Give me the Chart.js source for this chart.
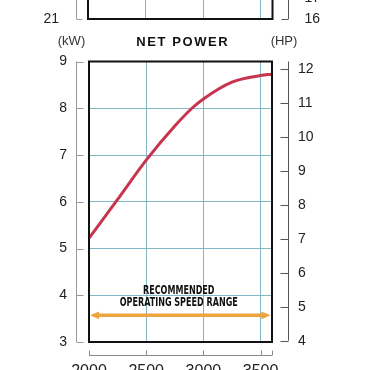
<!DOCTYPE html>
<html><head><meta charset="utf-8">
<script src="https://cdn.jsdelivr.net/npm/chart.js@4"></script>
<style>
html,body{margin:0;padding:0;background:#fff;}
body{width:370px;height:370px;overflow:hidden;position:relative;}
#topWrap{position:absolute;left:0;top:0;width:370px;height:30px;overflow:hidden;z-index:2;}
#topChart{position:absolute;left:0;top:-280px;}
#mainChart{position:absolute;left:0;top:0;z-index:1;}
</style></head><body>
<div id="topWrap"><canvas id="topChart" width="370" height="320"></canvas></div>
<canvas id="mainChart" width="370" height="370"></canvas>
<script>
// ---- data ----
const rpm = [2000,2250,2500,2750,2900,3000,3250,3500,3600];
const netPowerKW = [5.22,6.05,6.89,7.62,8.0,8.2,8.56,8.70,8.73];
const rpmTicks = [2000,2500,3000,3500];
const kwTicks = [3,4,5,6,7,8,9];
const hpTicks = [4,5,6,7,8,9,10,11,12];
const operatingRangeRpm = [2000,3600];
const operatingRangeLevelKW = 3.57;
const topLeftTicks = [21];
const topRightTicks = [16,17];
const titleText = 'NET POWER';
const leftUnit = '(kW)';
const rightUnit = '(HP)';
const rangeLabel = ['RECOMMENDED','OPERATING SPEED RANGE'];

const GRID = '#84b7c6';
const TICKFONT = '"Liberation Sans", Arial, sans-serif';

function setTicks(arr){ return s => { s.ticks = arr.map(v => ({value:v})); }; }
function fixV(w){ return s => { s.width = w; s.paddingTop = 0; s.paddingBottom = 0; }; }
function fixH(h){ return s => { s.height = h; s.paddingLeft = 0; s.paddingRight = 0; }; }

// ---- main chart decorations ----
const mainDecor = {
  id:'mainDecor',
  afterDatasetsDraw(chart){
    const {ctx, chartArea:a} = chart;
    ctx.save();
    ctx.strokeStyle = '#111'; ctx.lineWidth = 2;
    ctx.strokeRect(a.left, a.top, a.right-a.left, a.bottom-a.top);
    ctx.restore();
  },
  afterDraw(chart){
    const {ctx, chartArea:a, scales} = chart;
    const x = scales.x, y = scales.y, y2 = scales.y2;
    ctx.save();
    // left axis
    const lx = Math.round(a.left - 13) + 0.5;
    ctx.strokeStyle = '#9a9a9a'; ctx.lineWidth = 1;
    ctx.beginPath();
    ctx.moveTo(lx, y.getPixelForValue(kwTicks[kwTicks.length-1]));
    ctx.lineTo(lx, y.getPixelForValue(kwTicks[0]));
    kwTicks.forEach(v => { const p = Math.round(y.getPixelForValue(v)) + 0.5; ctx.moveTo(lx, p); ctx.lineTo(lx+7, p); });
    ctx.stroke();
    // right axis
    const rx = Math.round(a.right + 16) + 0.5;
    ctx.strokeStyle = '#555';
    ctx.beginPath();
    ctx.moveTo(rx, a.top);
    ctx.lineTo(rx, y2.getPixelForValue(hpTicks[0]));
    hpTicks.forEach(v => { const p = Math.round(y2.getPixelForValue(v)) + 0.5; ctx.moveTo(rx, p); ctx.lineTo(rx-8, p); });
    ctx.stroke();
    // bottom axis
    const by = Math.round(a.bottom + 13) + 0.5;
    ctx.strokeStyle = '#888';
    ctx.beginPath();
    ctx.moveTo(x.getPixelForValue(rpmTicks[0]), by);
    ctx.lineTo(a.right, by);
    rpmTicks.concat([operatingRangeRpm[1]]).forEach(v => { const p = Math.round(x.getPixelForValue(v)) + 0.5; ctx.moveTo(p, by); ctx.lineTo(p, by-5); });
    ctx.stroke();
    // titles
    ctx.fillStyle = '#111';
    ctx.textAlign = 'center'; ctx.textBaseline = 'middle';
    ctx.font = 'bold 13px ' + TICKFONT;
    ctx.letterSpacing = '1.6px';
    ctx.fillText(titleText, (a.left+a.right)/2 + 2.3, a.top - 19.5);
    ctx.letterSpacing = '0px';
    ctx.fillStyle = '#333';
    ctx.font = '13px ' + TICKFONT;
    ctx.fillText(leftUnit, a.left - 17.5, a.top - 20);
    ctx.fillText(rightUnit, a.right + 12, a.top - 20.5);
    // operating range arrow
    const x0 = x.getPixelForValue(operatingRangeRpm[0]) + 1;
    const x1 = x.getPixelForValue(operatingRangeRpm[1]) - 1.5;
    const ay = y.getPixelForValue(operatingRangeLevelKW);
    ctx.strokeStyle = '#eca43e'; ctx.fillStyle = '#eca43e';
    ctx.lineWidth = 3.5;
    ctx.beginPath(); ctx.moveTo(x0+6, ay); ctx.lineTo(x1-6, ay); ctx.stroke();
    ctx.beginPath(); ctx.moveTo(x0, ay); ctx.lineTo(x0+9, ay-3.8); ctx.lineTo(x0+9, ay+3.8); ctx.closePath(); ctx.fill();
    ctx.beginPath(); ctx.moveTo(x1, ay); ctx.lineTo(x1-9, ay-3.8); ctx.lineTo(x1-9, ay+3.8); ctx.closePath(); ctx.fill();
    // range label
    ctx.fillStyle = '#111';
    ctx.font = 'bold 12px "Liberation Sans Narrow", "DejaVu Sans Condensed", ' + TICKFONT;
    const cx = (x0 + x1)/2 - 1.5;
    const sx = 118 / ctx.measureText(rangeLabel[1]).width;
    [[rangeLabel[0], ay-24.5],[rangeLabel[1], ay-12]].forEach(([t, ty]) => {
      ctx.save(); ctx.translate(cx, ty); ctx.scale(sx, 1); ctx.fillText(t, 0, 0); ctx.restore();
    });
    ctx.restore();
  }
};

new Chart(document.getElementById('mainChart'), {
  type:'line',
  data:{ datasets:[{
    data: rpm.map((r,i) => ({x:r, y:netPowerKW[i]})),
    borderColor:'#c6344d', borderWidth:3, pointRadius:0,
    cubicInterpolationMode:'monotone', yAxisID:'y', xAxisID:'x'
  }]},
  options:{
    responsive:false, animation:false, devicePixelRatio:1,
    layout:{autoPadding:false, padding:{top:61.5, left:0, right:0, bottom:0}},
    plugins:{legend:{display:false}, tooltip:{enabled:false}, title:{display:false}},
    scales:{
      x:{ type:'linear', min:2000, max:3600, position:'bottom',
        afterBuildTicks: setTicks(rpmTicks),
        afterFit: fixH(28),
        grid:{color:GRID, lineWidth:1, drawTicks:false},
        border:{display:false},
        ticks:{padding:20, color:'#222', font:{family:TICKFONT, size:16}, maxRotation:0, autoSkip:false, callback:v=>String(v)} },
      y:{ type:'linear', min:3, max:9, position:'left',
        afterBuildTicks: setTicks(kwTicks),
        afterFit: fixV(89),
        grid:{color:GRID, lineWidth:1, drawTicks:false},
        border:{display:false},
        ticks:{padding:22, color:'#222', font:{family:TICKFONT, size:14}} },
      y2:{ type:'linear', min:3.96, max:12.22, position:'right',
        afterBuildTicks: setTicks(hpTicks),
        afterFit: fixV(98),
        grid:{display:false, drawOnChartArea:false, drawTicks:false},
        border:{display:false},
        ticks:{padding:26, color:'#222', font:{family:TICKFONT, size:14}} }
    }
  },
  plugins:[mainDecor]
});

// ---- partial upper chart (bottom edge only visible) ----
const topDecor = {
  id:'topDecor',
  afterDatasetsDraw(chart){
    const {ctx, chartArea:a} = chart;
    ctx.save();
    ctx.strokeStyle = '#111'; ctx.lineWidth = 2;
    ctx.strokeRect(a.left, a.top - 5, a.right-a.left, a.bottom-a.top + 5);
    ctx.restore();
  },
  afterDraw(chart){
    const {ctx, chartArea:a, scales} = chart;
    const y = scales.y, y2 = scales.y2;
    ctx.save();
    ctx.lineWidth = 1;
    const lx = Math.round(a.left - 12) + 0.5;
    ctx.strokeStyle = '#9a9a9a';
    ctx.beginPath();
    ctx.moveTo(lx, 0); ctx.lineTo(lx, y.getPixelForValue(topLeftTicks[0]));
    topLeftTicks.forEach(v => { const p = Math.round(y.getPixelForValue(v)) + 0.5; ctx.moveTo(lx, p); ctx.lineTo(lx+6, p); });
    ctx.stroke();
    const rx = Math.round(a.right + 15.5) + 0.5;
    ctx.strokeStyle = '#555';
    ctx.beginPath();
    ctx.moveTo(rx, 0); ctx.lineTo(rx, y2.getPixelForValue(topRightTicks[0]));
    topRightTicks.forEach(v => { const p = Math.round(y2.getPixelForValue(v)) + 0.5; ctx.moveTo(rx, p); ctx.lineTo(rx-7, p); });
    ctx.stroke();
    ctx.restore();
  }
};

new Chart(document.getElementById('topChart'), {
  type:'line',
  data:{datasets:[]},
  options:{
    responsive:false, animation:false, devicePixelRatio:1,
    layout:{autoPadding:false, padding:{top:0, left:0, right:0, bottom:21}},
    plugins:{legend:{display:false}, tooltip:{enabled:false}},
    scales:{
      x:{ type:'linear', min:2000, max:3600, position:'bottom',
        afterBuildTicks: setTicks(rpmTicks),
        afterFit: fixH(0),
        grid:{color:GRID, lineWidth:1, drawTicks:false},
        border:{display:false},
        ticks:{display:false} },
      y:{ type:'linear', min:21, max:41, position:'left',
        afterBuildTicks: setTicks(topLeftTicks),
        afterFit: fixV(88),
        grid:{display:false},
        border:{display:false},
        ticks:{padding:21, color:'#222', font:{family:TICKFONT, size:14}} },
      y2:{ type:'linear', min:16, max:30.24, position:'right',
        afterBuildTicks: setTicks(topRightTicks),
        afterFit: fixV(97.5),
        grid:{display:false},
        border:{display:false},
        ticks:{padding:24, color:'#222', font:{family:TICKFONT, size:14}} }
    }
  },
  plugins:[topDecor]
});
</script>
</body></html>
